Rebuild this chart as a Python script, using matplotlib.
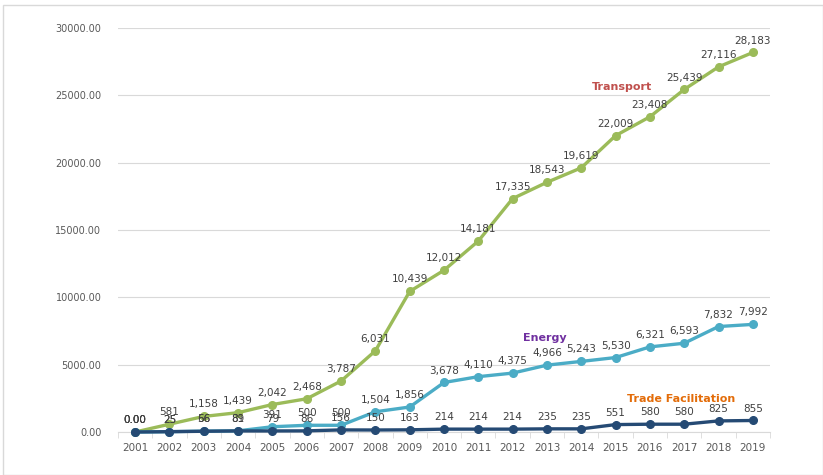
import matplotlib
matplotlib.use("Agg")
import matplotlib.pyplot as plt
from matplotlib.patches import Rectangle

years = list(range(2001, 2020))
transport = [0, 581, 1158, 1439, 2042, 2468, 3787, 6031, 10439, 12012,
             14181, 17335, 18543, 19619, 22009, 23408, 25439, 27116, 28183]
energy = [0, 25, 66, 89, 391, 500, 500, 1504, 1856, 3678,
          4110, 4375, 4966, 5243, 5530, 6321, 6593, 7832, 7992]
trade = [0, 25, 56, 81, 79, 86, 156, 150, 163, 214,
         214, 214, 235, 235, 551, 580, 580, 825, 855]
y_ticks = [0, 5000, 10000, 15000, 20000, 25000, 30000]

series = [
    ("Transport", transport, "#9bbb59", "#c0504d", (2015.2, 25600), 3.0),
    ("Energy", energy, "#4bacc6", "#7030a0", (2012.95, 7000), 3.3),
    ("Trade Facilitation", trade, "#254a74", "#e36c09", (2016.9, 2450), 3.6),
]

fig = plt.figure(figsize=(8.23, 4.75), dpi=100)
fig.patches.append(Rectangle((0.004, 0.0), 0.996, 0.989, transform=fig.transFigure,
                             fill=False, edgecolor="#d9d9d9", linewidth=1.0))
ax = fig.add_axes([0.1434, 0.0905, 0.7922, 0.8505])

x = list(range(len(years)))
label_color = "#404040"

for name, vals, color, tcolor, pos, z in series:
    ax.plot(x, vals, color=color, linewidth=2.4, marker="o", markersize=5.5,
            zorder=z, clip_on=False)
    for xi, v in zip(x, vals):
        txt = "0.00" if v == 0 else f"{v:,.0f}"
        ax.annotate(txt, (xi, v), xytext=(0, 5), textcoords="offset points",
                    ha="center", va="bottom", fontsize=7.5, color=label_color,
                    zorder=4)
    ax.text(pos[0] - 2001, pos[1], name, color=tcolor, fontsize=8,
            fontweight="bold", ha="center", va="center")

ax.set_xlim(-0.5, len(years) - 0.5)
ax.set_ylim(0, 30000)
ax.set_yticks(y_ticks)
ax.set_yticklabels([f"{t:.2f}" for t in y_ticks], fontsize=7, color="#595959")
ax.set_xticks(x)
ax.set_xticklabels([str(y) for y in years], fontsize=7.5, color="#595959")
ax.set_xticks([i + 0.5 for i in x[:-1]] + [-0.5, len(years) - 0.5], minor=True)
ax.tick_params(axis="x", which="major", length=0, pad=8)
ax.tick_params(axis="x", which="minor", length=4, color="#d9d9d9")
ax.tick_params(axis="y", length=0, pad=12)

ax.grid(axis="y", color="#d9d9d9", linewidth=0.8)
ax.set_axisbelow(True)
for side in ["top", "right", "left"]:
    ax.spines[side].set_visible(False)
ax.spines["bottom"].set_color("#d9d9d9")

fig.savefig("out.png", dpi=100, facecolor="white")
